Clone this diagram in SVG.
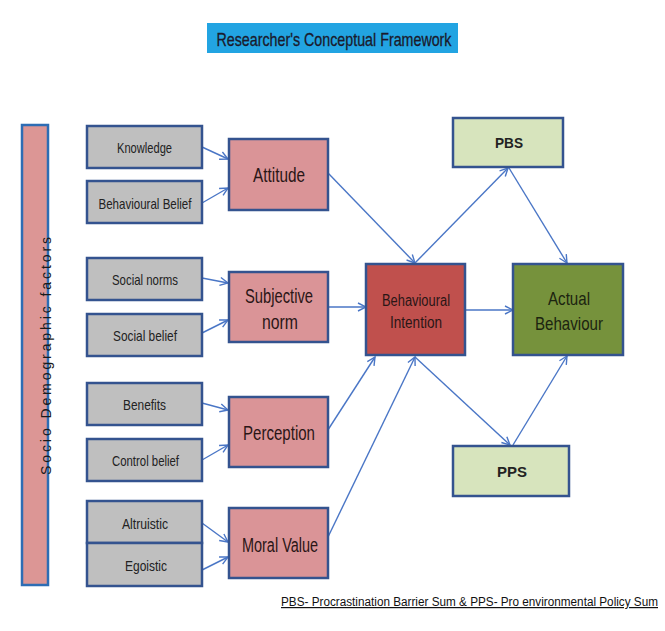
<svg xmlns="http://www.w3.org/2000/svg" width="665" height="631" viewBox="0 0 665 631">
  <style>
    .bg { fill: #ffffff; }
    .title-box { fill: #22A4E2; }
    .title { font-family: "Liberation Sans", Arial, sans-serif; font-size: 19px; fill: #1a1a2c; text-anchor: middle; stroke: #1a1a2c; stroke-width: 0.3; }
    .bar { fill: #DC9695; stroke: #2E6DB4; stroke-width: 2.5; }
    .factor { fill: #BFBFBF; stroke: #34538F; stroke-width: 2.5; }
    .construct { fill: #DA9497; stroke: #34538F; stroke-width: 2.5; }
    .intent { fill: #C0504D; stroke: #34538F; stroke-width: 2.5; }
    .actual { fill: #76923C; stroke: #34538F; stroke-width: 2.5; }
    .sum { fill: #D7E4BD; stroke: #34538F; stroke-width: 2.5; }
    .t-small { font-family: "Liberation Sans", Arial, sans-serif; font-size: 15px; fill: #222222; text-anchor: middle; dominant-baseline: central; }
    .t-mid { font-family: "Liberation Sans", Arial, sans-serif; font-size: 20px; fill: #2a1616; text-anchor: middle; dominant-baseline: central; }
    .t-bi { font-family: "Liberation Sans", Arial, sans-serif; font-size: 16px; fill: #2a1616; text-anchor: middle; dominant-baseline: central; }
    .t-act { font-family: "Liberation Sans", Arial, sans-serif; font-size: 19px; fill: #1c2410; text-anchor: middle; dominant-baseline: central; }
    .t-sum { font-family: "Liberation Sans", Arial, sans-serif; font-size: 14px; font-weight: bold; fill: #222222; text-anchor: middle; dominant-baseline: central; }
    .t-bar { font-family: "Liberation Sans", Arial, sans-serif; font-size: 14px; fill: #1a1a1a; text-anchor: middle; dominant-baseline: central; }
    .caption { font-family: "Liberation Sans", Arial, sans-serif; font-size: 12px; fill: #111111; text-decoration: underline; }
    .link { fill: none; stroke: #4A76C6; stroke-width: 1.4; marker-end: url(#arrow); }
  </style>
  <defs>
    <marker id="arrow" viewBox="0 0 10 10" refX="9" refY="5" markerWidth="10" markerHeight="10" orient="auto" markerUnits="userSpaceOnUse">
      <path d="M1,1 L9,5 L1,9" fill="none" stroke="#4A76C6" stroke-width="1.4"/>
    </marker>
  </defs>

  <rect class="bg" x="0" y="0" width="665" height="631"/>

  <!-- heading -->
  <g id="title">
    <rect class="title-box" x="207" y="23" width="251" height="30"/>
    <text class="title" x="334" y="46" textLength="235" lengthAdjust="spacingAndGlyphs">Researcher's Conceptual Framework</text>
  </g>

  <!-- background factor bar -->
  <g id="socio-demographic">
    <rect class="bar" x="22" y="125" width="26" height="460"/>
    <text class="t-bar" transform="translate(46,356) rotate(-90)" textLength="238" lengthAdjust="spacing">Socio Demographic factors</text>
  </g>

  <!-- connectors -->
  <g id="connectors">
    <line class="link" x1="202" y1="147" x2="228" y2="159"/>
    <line class="link" x1="202" y1="203" x2="228" y2="188"/>
    <line class="link" x1="202" y1="278" x2="228" y2="283"/>
    <line class="link" x1="202" y1="333" x2="228" y2="320"/>
    <line class="link" x1="202" y1="403" x2="228" y2="410"/>
    <line class="link" x1="202" y1="460" x2="228" y2="445"/>
    <line class="link" x1="202" y1="523" x2="228" y2="542"/>
    <line class="link" x1="202" y1="570" x2="228" y2="557"/>

    <line class="link" x1="328" y1="173" x2="415" y2="263"/>
    <line class="link" x1="328" y1="307" x2="366" y2="307"/>
    <line class="link" x1="324" y1="436" x2="375" y2="357"/>
    <line class="link" x1="328" y1="537" x2="415" y2="357"/>

    <line class="link" x1="415" y1="263" x2="508" y2="168"/>
    <line class="link" x1="509" y1="168" x2="567" y2="263"/>
    <line class="link" x1="465" y1="310" x2="513" y2="310"/>
    <line class="link" x1="415" y1="357" x2="510" y2="445"/>
    <line class="link" x1="513" y1="445" x2="567" y2="356"/>
  </g>

  <!-- factor boxes -->
  <g id="knowledge">
    <rect class="factor" x="87" y="126" width="115" height="42"/>
    <text class="t-small" x="144.5" y="147" textLength="55" lengthAdjust="spacingAndGlyphs">Knowledge</text>
  </g>
  <g id="behavioural-belief">
    <rect class="factor" x="87" y="181" width="115" height="42"/>
    <text class="t-small" x="145" y="203" textLength="93" lengthAdjust="spacingAndGlyphs">Behavioural Belief</text>
  </g>
  <g id="social-norms">
    <rect class="factor" x="87" y="258" width="115" height="42"/>
    <text class="t-small" x="145" y="279" textLength="66" lengthAdjust="spacingAndGlyphs">Social norms</text>
  </g>
  <g id="social-belief">
    <rect class="factor" x="87" y="314" width="115" height="42"/>
    <text class="t-small" x="145" y="335" textLength="64" lengthAdjust="spacingAndGlyphs">Social belief</text>
  </g>
  <g id="benefits">
    <rect class="factor" x="87" y="383" width="115" height="42"/>
    <text class="t-small" x="144.5" y="404" textLength="43" lengthAdjust="spacingAndGlyphs">Benefits</text>
  </g>
  <g id="control-belief">
    <rect class="factor" x="87" y="439" width="115" height="42"/>
    <text class="t-small" x="145.5" y="460" textLength="67" lengthAdjust="spacingAndGlyphs">Control belief</text>
  </g>
  <g id="altruistic">
    <rect class="factor" x="87" y="501" width="115" height="42"/>
    <text class="t-small" x="145" y="523" textLength="46" lengthAdjust="spacingAndGlyphs">Altruistic</text>
  </g>
  <g id="egoistic">
    <rect class="factor" x="87" y="543" width="115" height="43"/>
    <text class="t-small" x="146" y="565" textLength="42" lengthAdjust="spacingAndGlyphs">Egoistic</text>
  </g>

  <!-- constructs -->
  <g id="attitude">
    <rect class="construct" x="229" y="139" width="99" height="71"/>
    <text class="t-mid" x="279" y="175" textLength="52" lengthAdjust="spacingAndGlyphs">Attitude</text>
  </g>
  <g id="subjective-norm">
    <rect class="construct" x="229" y="272" width="99" height="70"/>
    <text class="t-mid" x="279" y="296" textLength="68" lengthAdjust="spacingAndGlyphs">Subjective</text>
    <text class="t-mid" x="280" y="322" textLength="36" lengthAdjust="spacingAndGlyphs">norm</text>
  </g>
  <g id="perception">
    <rect class="construct" x="229" y="397" width="99" height="70"/>
    <text class="t-mid" x="279" y="433" textLength="72" lengthAdjust="spacingAndGlyphs">Perception</text>
  </g>
  <g id="moral-value">
    <rect class="construct" x="229" y="508" width="99" height="70"/>
    <text class="t-mid" x="280" y="545" textLength="76" lengthAdjust="spacingAndGlyphs">Moral Value</text>
  </g>

  <!-- outcomes -->
  <g id="behavioural-intention">
    <rect class="intent" x="366" y="264" width="99" height="91"/>
    <text class="t-bi" x="416" y="300" textLength="68" lengthAdjust="spacingAndGlyphs">Behavioural</text>
    <text class="t-bi" x="416" y="322" textLength="52" lengthAdjust="spacingAndGlyphs">Intention</text>
  </g>
  <g id="actual-behaviour">
    <rect class="actual" x="513" y="264" width="110" height="91"/>
    <text class="t-act" x="569" y="298" textLength="42" lengthAdjust="spacingAndGlyphs">Actual</text>
    <text class="t-act" x="569" y="323" textLength="68" lengthAdjust="spacingAndGlyphs">Behaviour</text>
  </g>
  <g id="pbs">
    <rect class="sum" x="453" y="118" width="110" height="49"/>
    <text class="t-sum" x="509" y="143" textLength="28" lengthAdjust="spacingAndGlyphs">PBS</text>
  </g>
  <g id="pps">
    <rect class="sum" x="453" y="446" width="116" height="50"/>
    <text class="t-sum" x="512" y="472" textLength="30" lengthAdjust="spacingAndGlyphs">PPS</text>
  </g>

  <!-- legend -->
  <text class="caption" x="281" y="606" textLength="377" lengthAdjust="spacingAndGlyphs">PBS- Procrastination Barrier Sum &amp; PPS- Pro environmental  Policy  Sum</text>
</svg>
